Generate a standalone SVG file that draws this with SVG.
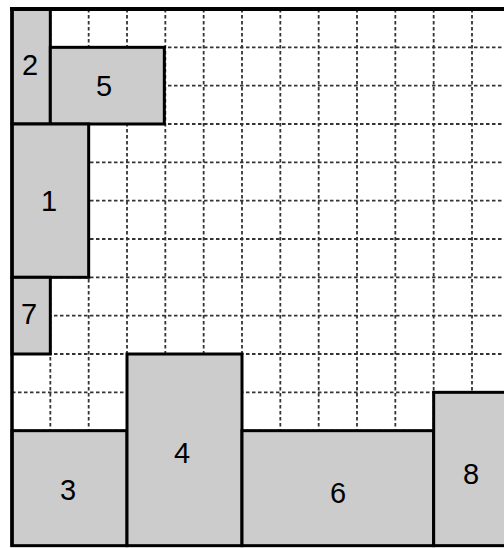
<svg xmlns="http://www.w3.org/2000/svg" width="504" height="548" viewBox="0 0 504 548">
<style>
.grid line{stroke:#333;stroke-width:1.8;stroke-dasharray:3.5 2.5}
.box rect{fill:#cccccc;stroke:#000;stroke-width:3}
.box text{font-family:"Liberation Sans",Arial,sans-serif;font-size:29px;fill:#000;text-anchor:middle}
.border{stroke:#000;fill:none}
</style>
<rect x="0" y="0" width="504" height="548" fill="#fff"/>
<g id="grid" class="grid">
<line x1="50.33" y1="9" x2="50.33" y2="546"/>
<line x1="88.67" y1="9" x2="88.67" y2="546"/>
<line x1="127" y1="9" x2="127" y2="546"/>
<line x1="165.33" y1="9" x2="165.33" y2="546"/>
<line x1="203.67" y1="9" x2="203.67" y2="546"/>
<line x1="242" y1="9" x2="242" y2="546"/>
<line x1="280.33" y1="9" x2="280.33" y2="546"/>
<line x1="318.67" y1="9" x2="318.67" y2="546"/>
<line x1="357" y1="9" x2="357" y2="546"/>
<line x1="395.33" y1="9" x2="395.33" y2="546"/>
<line x1="433.67" y1="9" x2="433.67" y2="546"/>
<line x1="472" y1="9" x2="472" y2="546"/>
<line x1="12" y1="47.33" x2="504" y2="47.33"/>
<line x1="12" y1="85.67" x2="504" y2="85.67"/>
<line x1="12" y1="124" x2="504" y2="124"/>
<line x1="12" y1="162.33" x2="504" y2="162.33"/>
<line x1="12" y1="200.67" x2="504" y2="200.67"/>
<line x1="12" y1="239" x2="504" y2="239"/>
<line x1="12" y1="277.33" x2="504" y2="277.33"/>
<line x1="12" y1="315.67" x2="504" y2="315.67"/>
<line x1="12" y1="354" x2="504" y2="354"/>
<line x1="12" y1="392.33" x2="504" y2="392.33"/>
<line x1="12" y1="430.67" x2="504" y2="430.67"/>
<line x1="12" y1="469" x2="504" y2="469"/>
<line x1="12" y1="507.33" x2="504" y2="507.33"/>
</g>
<g id="box2" class="box"><rect x="12" y="9" width="38.33" height="115"/><text x="30" y="75">2</text></g>
<g id="box5" class="box"><rect x="50.33" y="47.33" width="114" height="76.67"/><text x="104" y="96">5</text></g>
<g id="box1" class="box"><rect x="12" y="124" width="76.67" height="153.33"/><text x="49" y="211">1</text></g>
<g id="box7" class="box"><rect x="12" y="277.33" width="38.33" height="76.67"/><text x="29" y="324">7</text></g>
<g id="box3" class="box"><rect x="12" y="430.67" width="115" height="115"/><text x="68" y="500">3</text></g>
<g id="box4" class="box"><rect x="127" y="354" width="115" height="191.67"/><text x="182" y="463">4</text></g>
<g id="box6" class="box"><rect x="242" y="430.67" width="191.67" height="115"/><text x="338" y="503">6</text></g>
<g id="box8" class="box"><rect x="433.67" y="392.33" width="76.67" height="153.33"/><text x="471" y="484">8</text></g>
<line class="border" x1="10" y1="9" x2="504" y2="9" stroke-width="4"/>
<line class="border" x1="12" y1="7" x2="12" y2="547" stroke-width="3.5"/>
</svg>
